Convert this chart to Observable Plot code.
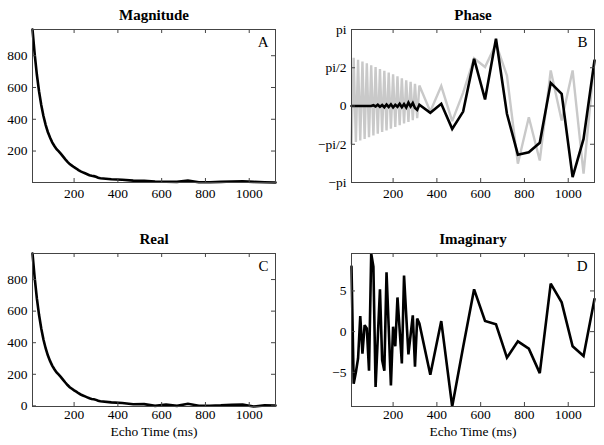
<!DOCTYPE html>
<html>
<head>
<meta charset="utf-8">
<script src="https://cdn.jsdelivr.net/npm/d3@7"></script>
<script src="https://cdn.jsdelivr.net/npm/@observablehq/plot@0.6"></script>
<style>
  html, body { margin: 0; padding: 0; background: #fff; }
  #fig { position: relative; width: 604px; height: 445px; overflow: hidden; background: #fff; }
  .panel { position: absolute; }
</style>
</head>
<body>
<div id="fig"></div>
<script>
// ---- Data ----
const echoTimes = [10,20,30,40,50,60,70,80,90,100,110,120,130,140,150,160,170,180,190,200,
  210,220,230,240,250,260,270,280,290,300,310,320,
  370,420,470,520,570,620,670,720,770,820,870,920,970,1020,1070,1120];

const magnitude = [965,810,680,575,490,420,365,320,285,255,232,212,198,182,165,148,132,118,108,98,
  90,80,72,66,60,54,48,44,42,38,32,29,
  22,19,14,12,8,7,6,14,4,4,6,8,9,6,4,2];

const realPart = [965,810,680,575,490,420,365,320,285,255,232,212,198,182,165,148,132,118,108,98,
  90,80,72,66,60,54,48,44,42,38,32,29,
  22,18,10,11,0,8,0,13,1,1,3,7,8,-4,3,2];

const imagPart = [8.0,-6.4,-5.0,-3.3,1.9,-2.7,0.8,0.4,-4.8,9.6,8.0,-6.8,-0.8,5.2,-3.5,-4.8,7.3,0.5,-6.6,0.6,
  -1.8,4.2,0.2,-3.9,6.9,2.0,-2.8,-0.4,2.0,-4.3,1.6,1.0,
  -5.3,1.3,-9.2,-1.9,5.2,1.3,0.9,-3.2,-1.2,-2.1,-5.1,5.9,3.6,-1.8,-3.0,4.0];

const phaseRaw = [-1.55,1.98,-1.48,1.90,-1.42,1.83,-1.35,1.75,-1.28,1.67,-1.21,1.60,-1.14,1.52,-1.07,1.45,
  -1.00,1.37,-0.93,1.30,-0.86,1.22,-0.79,1.14,-0.72,1.06,-0.65,0.99,-0.58,0.91,-0.50,0.84,
  -0.22,0.82,-0.62,0.55,1.96,1.60,2.55,1.25,-2.37,-0.46,-2.24,1.46,-0.60,1.46,-2.78,1.87];

const phaseCorrected = [0,0,0,0,0,0,0,0,0,0,0.03,-0.02,0.05,-0.03,0.04,-0.05,0.06,-0.04,0.07,-0.06,
  0.05,-0.03,0.09,-0.05,0.08,-0.06,0.14,-0.02,0.12,-0.08,-0.16,0.05,
  -0.28,0.09,-0.94,-0.23,1.94,0.27,2.76,-0.32,-2.0,-1.9,-1.51,0.95,0.5,-2.92,-1.35,1.87];

const xTickValues = [200,400,600,800,1000];
const magTickValues = [200,400,600,800];
const realTickValues = [0,200,400,600,800];
const imagTickValues = [-5,0,5];
const phaseTickValues = [-Math.PI,-Math.PI/2,0,Math.PI/2,Math.PI];
const phaseTickLabels = ["\u2212pi","\u2212pi/2","0","pi/2","pi"];

const panelTitles = ["Magnitude","Phase","Real","Imaginary"];
const panelLetters = ["A","B","C","D"];
const xAxisLabel = "Echo Time (ms)";

// ---- Table built from arrays ----
const rows = echoTimes.map((t, i) => ({
  t, mag: magnitude[i], re: realPart[i], im: imagPart[i],
  praw: phaseRaw[i], pcor: phaseCorrected[i]
}));

const FONT = "Liberation Serif, Times New Roman, serif";
const FRAME = "#444";
const numFmt = d => (d < 0 ? "\u2212" + Math.abs(d) : String(d));

function panel({left, top, width, height, mL, mR, mT, mB, yDomain, yTicks, yFmt, series, title, letter, xlabel, xPad}) {
  const fw = width - mL - mR, fh = height - mT - mB;
  const marks = [
    ...series.map(s => Plot.line(rows, {x: "t", y: s.key, stroke: s.color, strokeWidth: s.w, strokeLinejoin: "miter", strokeMiterlimit: 3})),
    Plot.frame({stroke: FRAME, strokeWidth: 1}),
    Plot.tickX(xTickValues, {x: d => d, insetTop: fh - 4, stroke: FRAME}),
    Plot.tickX(xTickValues, {x: d => d, insetBottom: fh - 4, stroke: FRAME}),
    Plot.tickY(yTicks, {y: d => d, insetRight: fw - 4, stroke: FRAME}),
    Plot.tickY(yTicks, {y: d => d, insetLeft: fw - 4, stroke: FRAME}),
    Plot.axisX({ticks: xTickValues, tickSize: 0, tickPadding: xPad, label: null, fontSize: 13.5, tickFormat: numFmt}),
    Plot.axisY({ticks: yTicks, tickSize: 0, tickPadding: 5, label: null, fontSize: 13.5, tickFormat: yFmt}),
    Plot.text([title], {frameAnchor: "top", lineAnchor: "bottom", dy: -10, fontWeight: "bold", fontSize: 15}),
    Plot.text([letter], {frameAnchor: "top-right", lineAnchor: "bottom", dx: -7, dy: 17, fontSize: 15})
  ];
  if (xlabel) marks.push(Plot.text([xlabel], {frameAnchor: "bottom", lineAnchor: "bottom", dy: 29, fontSize: 13.5}));
  const chart = Plot.plot({
    width, height,
    marginLeft: mL, marginRight: mR, marginTop: mT, marginBottom: mB,
    style: {fontFamily: FONT, fontSize: "13.5px", color: "#000", background: "#fff", overflow: "visible"},
    x: {domain: d3.extent(echoTimes)},
    y: {domain: yDomain},
    marks
  });
  const div = document.createElement("div");
  div.className = "panel";
  div.style.left = left + "px";
  div.style.top = top + "px";
  div.appendChild(chart);
  document.getElementById("fig").appendChild(div);
}

const magExt = d3.extent(magnitude);
const reExt = d3.extent(realPart);
const imExt = d3.extent(imagPart);

panel({left: 0, top: 0, width: 302, height: 222, mL: 32, mR: 27, mT: 29, mB: 40, xPad: 6,
  yDomain: magExt, yTicks: magTickValues, yFmt: numFmt,
  series: [{key: "mag", color: "#000", w: 2.6}], title: panelTitles[0], letter: panelLetters[0]});

panel({left: 302, top: 0, width: 302, height: 222, mL: 49, mR: 10, mT: 29, mB: 40, xPad: 6,
  yDomain: [-Math.PI, Math.PI], yTicks: phaseTickValues, yFmt: (d, i) => phaseTickLabels[i],
  series: [{key: "praw", color: "#c9c9c9", w: 2.4}, {key: "pcor", color: "#000", w: 2.6}],
  title: panelTitles[1], letter: panelLetters[1]});

panel({left: 0, top: 222, width: 302, height: 223, mL: 32, mR: 27, mT: 31, mB: 39, xPad: 3,
  yDomain: reExt, yTicks: realTickValues, yFmt: numFmt,
  series: [{key: "re", color: "#000", w: 2.6}], title: panelTitles[2], letter: panelLetters[2], xlabel: xAxisLabel});

panel({left: 302, top: 222, width: 302, height: 223, mL: 49, mR: 10, mT: 31, mB: 39, xPad: 3,
  yDomain: imExt, yTicks: imagTickValues, yFmt: numFmt,
  series: [{key: "im", color: "#000", w: 2.6}], title: panelTitles[3], letter: panelLetters[3], xlabel: xAxisLabel});
</script>
</body>
</html>
